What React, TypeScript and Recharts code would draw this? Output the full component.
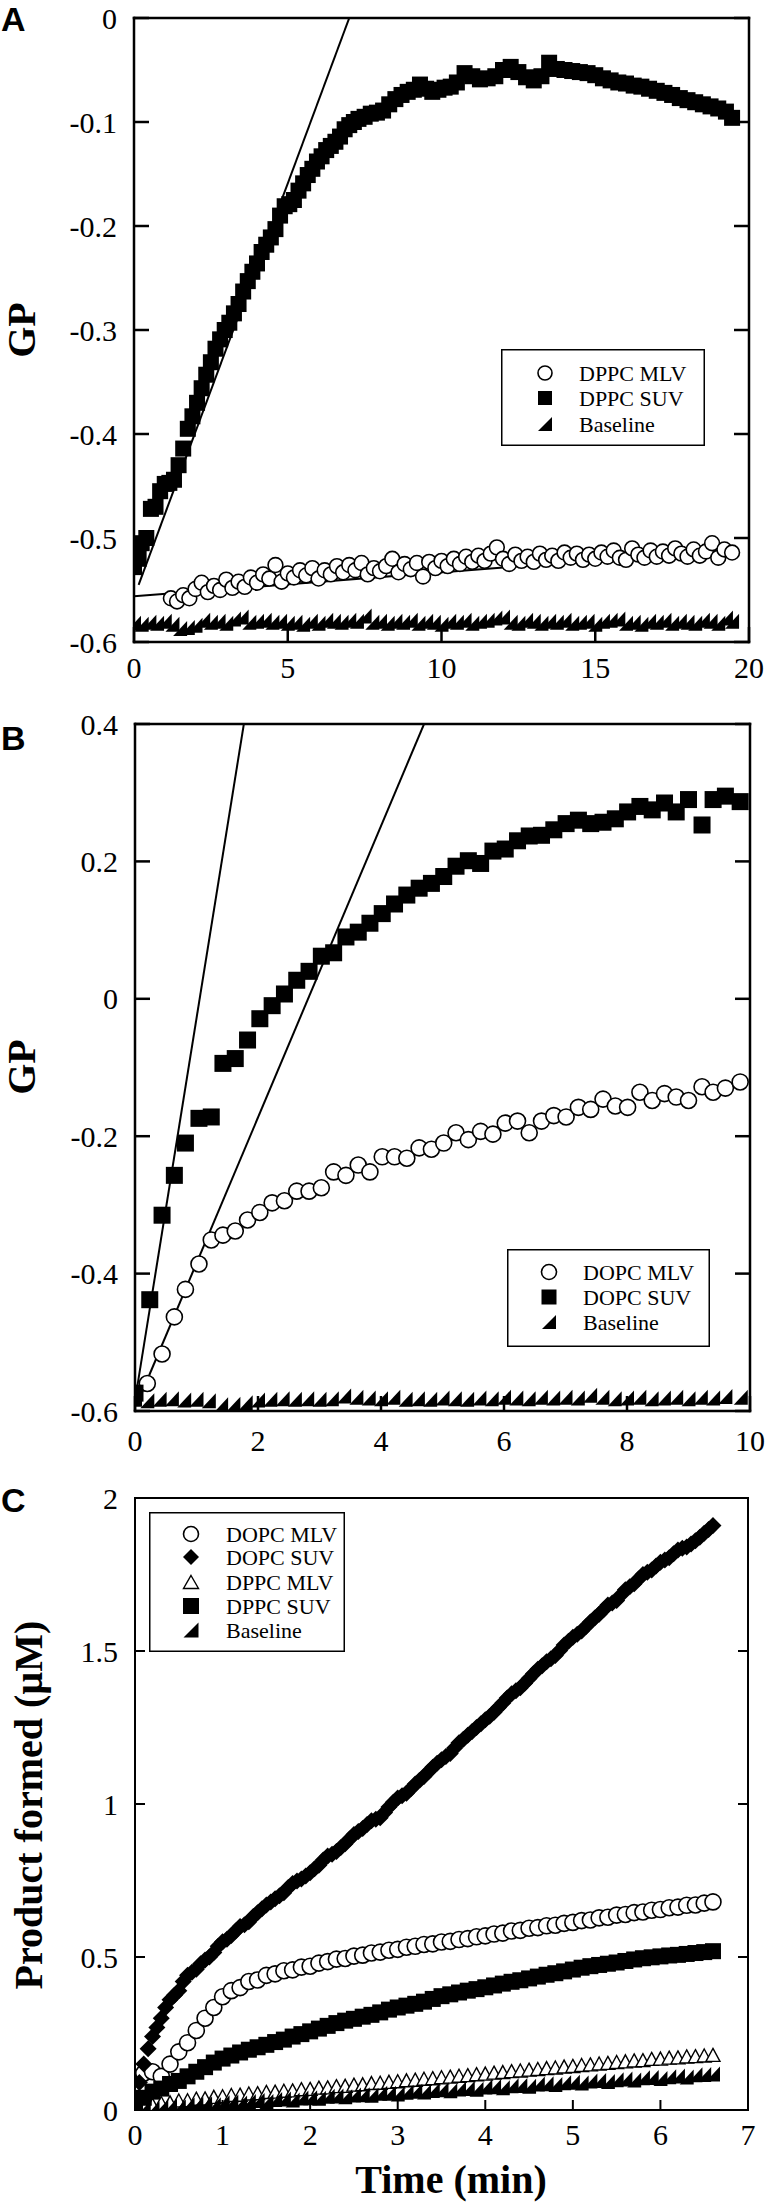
import React from 'react';
import { ComposedChart, Scatter, Line, XAxis, YAxis, Legend } from 'recharts';

const SERIF = '"Liberation Serif", "Times New Roman", serif';
const SANS = '"Liberation Sans", Arial, sans-serif';

type Pt = [number, number];

// ---------- panel A : DPPC, GP vs time ----------
const A_X_TICKS = [0, 5, 10, 15, 20];
const A_Y_TICKS = [-0.6, -0.5, -0.4, -0.3, -0.2, -0.1, 0];
const A_NAMES = ['DPPC MLV', 'DPPC SUV', 'Baseline'];

const A_DPPC_MLV: Pt[] = [
  [1.2, -0.558], [1.4, -0.561], [1.6, -0.555], [1.8, -0.558], [2.0, -0.549], [2.2, -0.543], [2.4, -0.552],
  [2.6, -0.546], [2.8, -0.55], [3.0, -0.54], [3.2, -0.548], [3.4, -0.542], [3.6, -0.547], [3.8, -0.538],
  [4.0, -0.543], [4.2, -0.535], [4.4, -0.539], [4.6, -0.526], [4.8, -0.542], [5.0, -0.534], [5.2, -0.538],
  [5.4, -0.531], [5.6, -0.536], [5.8, -0.529], [6.0, -0.539], [6.2, -0.531], [6.4, -0.535], [6.6, -0.527],
  [6.8, -0.533], [7.0, -0.526], [7.2, -0.531], [7.4, -0.524], [7.6, -0.535], [7.8, -0.529], [8.0, -0.532],
  [8.2, -0.527], [8.4, -0.52], [8.6, -0.533], [8.8, -0.525], [9.0, -0.53], [9.2, -0.524], [9.4, -0.537],
  [9.6, -0.523], [9.8, -0.529], [10.0, -0.522], [10.2, -0.527], [10.4, -0.52], [10.6, -0.525], [10.8, -0.518],
  [11.0, -0.523], [11.2, -0.517], [11.4, -0.522], [11.6, -0.515], [11.8, -0.509], [12.0, -0.52], [12.2, -0.525],
  [12.4, -0.516], [12.6, -0.522], [12.8, -0.518], [13.0, -0.523], [13.2, -0.515], [13.4, -0.521], [13.6, -0.517],
  [13.8, -0.522], [14.0, -0.514], [14.2, -0.519], [14.4, -0.515], [14.6, -0.521], [14.8, -0.516], [15.0, -0.52],
  [15.2, -0.514], [15.4, -0.518], [15.6, -0.512], [15.8, -0.519], [16.0, -0.521], [16.2, -0.51], [16.4, -0.516],
  [16.6, -0.519], [16.8, -0.512], [17.0, -0.518], [17.2, -0.513], [17.4, -0.517], [17.6, -0.51], [17.8, -0.515],
  [18.0, -0.518], [18.2, -0.511], [18.4, -0.517], [18.6, -0.513], [18.8, -0.505], [19.0, -0.519], [19.2, -0.511],
  [19.45, -0.514],
];

const A_DPPC_SUV: Pt[] = [
  [0, -0.528], [0.15, -0.52], [0.25, -0.505], [0.4, -0.5], [0.55, -0.472], [0.7, -0.47], [0.85, -0.455],
  [1.0, -0.448], [1.15, -0.447], [1.3, -0.444], [1.45, -0.43], [1.6, -0.414], [1.75, -0.395], [1.9, -0.383],
  [2.05, -0.37], [2.2, -0.356], [2.35, -0.343], [2.5, -0.331], [2.65, -0.318], [2.8, -0.309], [2.95, -0.3],
  [3.1, -0.293], [3.25, -0.284], [3.4, -0.275], [3.55, -0.263], [3.7, -0.253], [3.85, -0.244], [4.0, -0.236],
  [4.15, -0.225], [4.3, -0.218], [4.45, -0.211], [4.6, -0.203], [4.75, -0.19], [4.9, -0.181], [5.05, -0.179],
  [5.2, -0.175], [5.35, -0.166], [5.5, -0.159], [5.65, -0.151], [5.8, -0.145], [5.95, -0.138], [6.1, -0.133],
  [6.25, -0.127], [6.4, -0.123], [6.55, -0.119], [6.7, -0.114], [6.85, -0.107], [7.0, -0.103], [7.15, -0.1],
  [7.3, -0.097], [7.5, -0.095], [7.7, -0.092], [7.9, -0.091], [8.1, -0.089], [8.3, -0.083], [8.5, -0.078],
  [8.7, -0.074], [8.9, -0.071], [9.1, -0.069], [9.3, -0.064], [9.5, -0.068], [9.7, -0.071], [9.9, -0.069],
  [10.1, -0.067], [10.3, -0.066], [10.5, -0.062], [10.75, -0.053], [11.0, -0.056], [11.25, -0.059], [11.5, -0.058],
  [11.75, -0.056], [12.0, -0.05], [12.25, -0.047], [12.5, -0.052], [12.75, -0.057], [13.0, -0.06], [13.25, -0.056],
  [13.5, -0.043], [13.75, -0.049], [14.0, -0.05], [14.25, -0.051], [14.5, -0.052], [14.75, -0.053], [15.0, -0.055],
  [15.25, -0.058], [15.5, -0.06], [15.75, -0.062], [16.0, -0.063], [16.25, -0.065], [16.5, -0.066], [16.75, -0.068],
  [17.0, -0.07], [17.25, -0.072], [17.5, -0.074], [17.75, -0.077], [18.0, -0.079], [18.25, -0.081], [18.5, -0.083],
  [18.75, -0.085], [19.0, -0.087], [19.25, -0.09], [19.45, -0.096],
];

const A_BASELINE: Pt[] = [
  [0, -0.582], [0.25, -0.583], [0.5, -0.581], [0.75, -0.582], [1.0, -0.58], [1.25, -0.583], [1.5, -0.587],
  [1.75, -0.586], [2.0, -0.584], [2.25, -0.579], [2.5, -0.581], [2.75, -0.58], [3.0, -0.582], [3.25, -0.578],
  [3.5, -0.576], [3.75, -0.581], [4.0, -0.58], [4.25, -0.579], [4.5, -0.581], [4.75, -0.58], [5.0, -0.582],
  [5.25, -0.581], [5.5, -0.583], [5.75, -0.58], [6.0, -0.582], [6.25, -0.579], [6.5, -0.58], [6.75, -0.581],
  [7.0, -0.579], [7.25, -0.58], [7.5, -0.575], [7.75, -0.581], [8.0, -0.58], [8.25, -0.582], [8.5, -0.58],
  [8.75, -0.581], [9.0, -0.579], [9.25, -0.582], [9.5, -0.58], [9.75, -0.581], [10.0, -0.583], [10.25, -0.58],
  [10.5, -0.581], [10.75, -0.579], [11.0, -0.582], [11.25, -0.58], [11.5, -0.579], [11.75, -0.577], [12.0, -0.576],
  [12.25, -0.581], [12.5, -0.582], [12.75, -0.579], [13.0, -0.58], [13.25, -0.582], [13.5, -0.58], [13.75, -0.581],
  [14.0, -0.579], [14.25, -0.582], [14.5, -0.581], [14.75, -0.58], [15.0, -0.583], [15.25, -0.58], [15.5, -0.579],
  [15.75, -0.578], [16.0, -0.582], [16.25, -0.581], [16.5, -0.583], [16.75, -0.58], [17.0, -0.581], [17.25, -0.579],
  [17.5, -0.582], [17.75, -0.58], [18.0, -0.581], [18.25, -0.582], [18.5, -0.579], [18.75, -0.58], [19.0, -0.582],
  [19.25, -0.577], [19.45, -0.58],
];

const A_FIT_SUV: Pt[] = [[0.15, -0.545], [7.0, 0]];
const A_FIT_MLV: Pt[] = [[0, -0.556], [19.5, -0.511]];

// ---------- panel B : DOPC, GP vs time ----------
const B_X_TICKS = [0, 2, 4, 6, 8, 10];
const B_Y_TICKS = [-0.6, -0.4, -0.2, 0, 0.2, 0.4];
const B_NAMES = ['DOPC MLV', 'DOPC SUV', 'Baseline'];

const B_DOPC_MLV: Pt[] = [
  [0.2, -0.56], [0.44, -0.517], [0.64, -0.463], [0.82, -0.423], [1.04, -0.386], [1.24, -0.351], [1.43, -0.344],
  [1.63, -0.338], [1.83, -0.322], [2.03, -0.311], [2.23, -0.297], [2.43, -0.294], [2.63, -0.28], [2.83, -0.28],
  [3.03, -0.275], [3.23, -0.252], [3.43, -0.257], [3.63, -0.242], [3.82, -0.252], [4.02, -0.23], [4.22, -0.23],
  [4.42, -0.232], [4.62, -0.217], [4.82, -0.219], [5.02, -0.21], [5.22, -0.195], [5.42, -0.205], [5.62, -0.193],
  [5.82, -0.197], [6.02, -0.181], [6.22, -0.178], [6.41, -0.195], [6.61, -0.178], [6.81, -0.17], [7.01, -0.172],
  [7.21, -0.158], [7.41, -0.161], [7.61, -0.146], [7.81, -0.156], [8.01, -0.158], [8.21, -0.136], [8.41, -0.148],
  [8.61, -0.138], [8.8, -0.143], [9.0, -0.148], [9.22, -0.128], [9.4, -0.136], [9.6, -0.13], [9.84, -0.121],
];

const B_DOPC_SUV: Pt[] = [
  [0, -0.574], [0.24, -0.438], [0.44, -0.315], [0.64, -0.257], [0.82, -0.21], [1.04, -0.174], [1.24, -0.172],
  [1.43, -0.094], [1.63, -0.087], [1.83, -0.06], [2.03, -0.029], [2.23, -0.01], [2.43, 0.007], [2.63, 0.027],
  [2.83, 0.04], [3.03, 0.062], [3.23, 0.067], [3.43, 0.09], [3.63, 0.097], [3.82, 0.11], [4.02, 0.124],
  [4.22, 0.138], [4.42, 0.151], [4.62, 0.161], [4.82, 0.168], [5.02, 0.178], [5.22, 0.193], [5.42, 0.201],
  [5.62, 0.197], [5.82, 0.215], [6.02, 0.218], [6.22, 0.23], [6.41, 0.237], [6.61, 0.238], [6.81, 0.246],
  [7.01, 0.255], [7.21, 0.26], [7.41, 0.255], [7.61, 0.257], [7.81, 0.262], [8.01, 0.272], [8.21, 0.28],
  [8.41, 0.275], [8.61, 0.285], [8.8, 0.272], [9.0, 0.29], [9.22, 0.253], [9.4, 0.29], [9.6, 0.295], [9.84, 0.287],
];

const B_BASELINE: Pt[] = [
  [0, -0.583], [0.2, -0.585], [0.4, -0.583], [0.6, -0.582], [0.8, -0.584], [1.0, -0.583], [1.2, -0.585],
  [1.4, -0.591], [1.6, -0.59], [1.8, -0.588], [2.0, -0.584], [2.2, -0.583], [2.4, -0.582], [2.6, -0.583],
  [2.8, -0.582], [3.0, -0.583], [3.2, -0.582], [3.4, -0.578], [3.6, -0.58], [3.8, -0.581], [4.0, -0.582],
  [4.2, -0.58], [4.4, -0.583], [4.6, -0.582], [4.8, -0.583], [5.0, -0.581], [5.2, -0.582], [5.4, -0.583],
  [5.6, -0.581], [5.8, -0.582], [6.0, -0.58], [6.2, -0.581], [6.4, -0.582], [6.6, -0.58], [6.8, -0.581],
  [7.0, -0.58], [7.2, -0.581], [7.4, -0.577], [7.6, -0.58], [7.8, -0.582], [8.0, -0.581], [8.2, -0.58],
  [8.4, -0.582], [8.6, -0.581], [8.8, -0.58], [9.0, -0.582], [9.2, -0.58], [9.4, -0.581], [9.6, -0.579], [9.85, -0.58],
];

const B_FIT_SUV: Pt[] = [[0, -0.585], [1.77, 0.4]];
const B_FIT_MLV: Pt[] = [[0.08, -0.58], [4.7, 0.4]];

// ---------- panel C : product formed vs time ----------
const C_X_TICKS = [0, 1, 2, 3, 4, 5, 6, 7];
const C_Y_TICKS = [0, 0.5, 1, 1.5, 2];
const C_NAMES = ['DOPC MLV', 'DOPC SUV', 'DPPC MLV', 'DPPC SUV', 'Baseline'];

const C_DOPC_MLV: Pt[] = [
  [0.1, 0.12], [0.2, 0.125], [0.3, 0.11], [0.4, 0.15], [0.5, 0.19], [0.6, 0.22], [0.7, 0.26], [0.8, 0.3],
  [0.9, 0.335], [1.0, 0.37], [1.1, 0.39], [1.2, 0.4], [1.3, 0.42], [1.4, 0.425], [1.5, 0.44], [1.6, 0.445],
  [1.7, 0.455], [1.8, 0.458], [1.9, 0.467], [2.0, 0.47], [2.1, 0.48], [2.2, 0.485], [2.3, 0.493], [2.4, 0.495],
  [2.5, 0.503], [2.6, 0.506], [2.7, 0.513], [2.8, 0.516], [2.9, 0.522], [3.0, 0.525], [3.1, 0.532], [3.2, 0.535],
  [3.3, 0.541], [3.4, 0.543], [3.5, 0.549], [3.6, 0.551], [3.7, 0.557], [3.8, 0.56], [3.9, 0.566], [4.0, 0.569],
  [4.1, 0.575], [4.2, 0.578], [4.3, 0.585], [4.4, 0.587], [4.5, 0.594], [4.6, 0.596], [4.7, 0.602], [4.8, 0.604],
  [4.9, 0.61], [5.0, 0.613], [5.1, 0.619], [5.2, 0.621], [5.3, 0.628], [5.4, 0.63], [5.5, 0.637], [5.6, 0.639],
  [5.7, 0.645], [5.8, 0.647], [5.9, 0.653], [6.0, 0.655], [6.1, 0.661], [6.2, 0.663], [6.3, 0.669], [6.4, 0.67],
  [6.5, 0.676], [6.6, 0.68],
];

const C_DOPC_SUV: Pt[] = [
  [0, 0.03], [0.05, 0.09], [0.1, 0.15], [0.15, 0.2], [0.2, 0.24], [0.25, 0.27], [0.3, 0.3], [0.35, 0.335],
  [0.4, 0.36], [0.45, 0.375], [0.5, 0.39], [0.55, 0.42], [0.6, 0.44], [0.65, 0.45], [0.7, 0.46], [0.75, 0.478],
  [0.8, 0.49], [0.85, 0.5], [0.9, 0.515], [0.95, 0.535], [1.0, 0.55], [1.05, 0.558], [1.1, 0.57], [1.15, 0.585],
  [1.2, 0.6], [1.25, 0.605], [1.3, 0.615], [1.35, 0.632], [1.4, 0.645], [1.45, 0.658], [1.5, 0.67], [1.55, 0.68],
  [1.6, 0.69], [1.65, 0.7], [1.7, 0.71], [1.75, 0.727], [1.8, 0.74], [1.85, 0.748], [1.9, 0.755], [1.95, 0.765],
  [2.0, 0.775], [2.05, 0.788], [2.1, 0.8], [2.15, 0.817], [2.2, 0.83], [2.25, 0.836], [2.3, 0.845], [2.35, 0.858],
  [2.4, 0.87], [2.45, 0.886], [2.5, 0.9], [2.55, 0.91], [2.6, 0.92], [2.65, 0.933], [2.7, 0.945], [2.75, 0.95],
  [2.8, 0.955], [2.85, 0.972], [2.9, 0.99], [2.95, 1.006], [3.0, 1.02], [3.05, 1.027], [3.1, 1.035], [3.15, 1.05],
  [3.2, 1.065], [3.25, 1.078], [3.3, 1.09], [3.35, 1.105], [3.4, 1.12], [3.45, 1.133], [3.5, 1.145], [3.55, 1.155],
  [3.6, 1.165], [3.65, 1.183], [3.7, 1.2], [3.75, 1.212], [3.8, 1.225], [3.85, 1.237], [3.9, 1.25], [3.95, 1.262],
  [4.0, 1.275], [4.05, 1.287], [4.1, 1.3], [4.15, 1.315], [4.2, 1.33], [4.25, 1.346], [4.3, 1.36], [4.35, 1.37],
  [4.4, 1.38], [4.45, 1.395], [4.5, 1.41], [4.55, 1.426], [4.6, 1.44], [4.65, 1.452], [4.7, 1.465], [4.75, 1.475],
  [4.8, 1.485], [4.85, 1.502], [4.9, 1.52], [4.95, 1.532], [5.0, 1.545], [5.05, 1.555], [5.1, 1.565], [5.15, 1.58],
  [5.2, 1.595], [5.25, 1.608], [5.3, 1.62], [5.35, 1.635], [5.4, 1.65], [5.45, 1.657], [5.5, 1.665], [5.55, 1.683],
  [5.6, 1.7], [5.65, 1.71], [5.7, 1.72], [5.75, 1.735], [5.8, 1.75], [5.85, 1.757], [5.9, 1.765], [5.95, 1.778],
  [6.0, 1.79], [6.05, 1.797], [6.1, 1.805], [6.15, 1.818], [6.2, 1.83], [6.25, 1.836], [6.3, 1.84], [6.35, 1.85],
  [6.4, 1.86], [6.45, 1.872], [6.5, 1.885], [6.55, 1.897], [6.6, 1.91],
];

const C_DPPC_MLV: Pt[] = [
  [0, 0.005], [0.1, 0.012], [0.2, 0.017], [0.3, 0.023], [0.4, 0.025], [0.5, 0.031], [0.6, 0.032], [0.7, 0.037],
  [0.8, 0.038], [0.9, 0.043], [1.0, 0.045], [1.1, 0.049], [1.2, 0.05], [1.3, 0.054], [1.4, 0.055], [1.5, 0.059],
  [1.6, 0.06], [1.7, 0.063], [1.8, 0.064], [1.9, 0.068], [2.0, 0.069], [2.1, 0.073], [2.2, 0.074], [2.3, 0.078],
  [2.4, 0.079], [2.5, 0.083], [2.6, 0.084], [2.7, 0.088], [2.8, 0.089], [2.9, 0.092], [3.0, 0.094], [3.1, 0.097],
  [3.2, 0.099], [3.3, 0.102], [3.4, 0.104], [3.5, 0.107], [3.6, 0.109], [3.7, 0.112], [3.8, 0.114], [3.9, 0.117],
  [4.0, 0.119], [4.1, 0.122], [4.2, 0.124], [4.3, 0.127], [4.4, 0.129], [4.5, 0.132], [4.6, 0.134], [4.7, 0.137],
  [4.8, 0.139], [4.9, 0.142], [5.0, 0.144], [5.1, 0.147], [5.2, 0.149], [5.3, 0.152], [5.4, 0.154], [5.5, 0.157],
  [5.6, 0.159], [5.7, 0.162], [5.8, 0.163], [5.9, 0.167], [6.0, 0.168], [6.1, 0.171], [6.2, 0.172], [6.3, 0.175],
  [6.4, 0.176], [6.5, 0.178], [6.6, 0.18],
];

const C_DPPC_SUV: Pt[] = [
  [0, 0.015], [0.1, 0.04], [0.2, 0.06], [0.3, 0.07], [0.4, 0.085], [0.5, 0.095], [0.6, 0.11], [0.7, 0.125],
  [0.8, 0.14], [0.9, 0.155], [1.0, 0.168], [1.1, 0.178], [1.2, 0.188], [1.3, 0.197], [1.4, 0.205], [1.5, 0.213],
  [1.6, 0.222], [1.7, 0.23], [1.8, 0.24], [1.9, 0.248], [2.0, 0.257], [2.1, 0.266], [2.2, 0.275], [2.3, 0.284],
  [2.4, 0.292], [2.5, 0.298], [2.6, 0.305], [2.7, 0.311], [2.8, 0.319], [2.9, 0.328], [3.0, 0.335], [3.1, 0.341],
  [3.2, 0.347], [3.3, 0.354], [3.4, 0.363], [3.5, 0.372], [3.6, 0.378], [3.7, 0.384], [3.8, 0.39], [3.9, 0.395],
  [4.0, 0.401], [4.1, 0.407], [4.2, 0.413], [4.3, 0.419], [4.4, 0.424], [4.5, 0.43], [4.6, 0.436], [4.7, 0.442],
  [4.8, 0.447], [4.9, 0.453], [5.0, 0.459], [5.1, 0.465], [5.2, 0.47], [5.3, 0.474], [5.4, 0.478], [5.5, 0.482],
  [5.6, 0.487], [5.7, 0.492], [5.8, 0.496], [5.9, 0.499], [6.0, 0.502], [6.1, 0.505], [6.2, 0.507], [6.3, 0.51],
  [6.4, 0.513], [6.5, 0.516], [6.6, 0.519],
];

const C_BASELINE: Pt[] = [
  [0, 0.0], [0.1, 0.006], [0.2, 0.004], [0.3, 0.01], [0.4, 0.013], [0.5, 0.01], [0.6, 0.016], [0.7, 0.018],
  [0.8, 0.02], [0.9, 0.017], [1.0, 0.024], [1.1, 0.026], [1.2, 0.023], [1.3, 0.028], [1.4, 0.031], [1.5, 0.028],
  [1.6, 0.034], [1.7, 0.036], [1.8, 0.033], [1.9, 0.039], [2.0, 0.04], [2.1, 0.038], [2.2, 0.045], [2.3, 0.046],
  [2.4, 0.043], [2.5, 0.049], [2.6, 0.05], [2.7, 0.048], [2.8, 0.055], [2.9, 0.055], [3.0, 0.052], [3.1, 0.058],
  [3.2, 0.061], [3.3, 0.059], [3.4, 0.064], [3.5, 0.066], [3.6, 0.063], [3.7, 0.069], [3.8, 0.07], [3.9, 0.068],
  [4.0, 0.075], [4.1, 0.076], [4.2, 0.073], [4.3, 0.079], [4.4, 0.08], [4.5, 0.078], [4.6, 0.085], [4.7, 0.086],
  [4.8, 0.083], [4.9, 0.089], [5.0, 0.091], [5.1, 0.088], [5.2, 0.095], [5.3, 0.096], [5.4, 0.093], [5.5, 0.099],
  [5.6, 0.101], [5.7, 0.098], [5.8, 0.105], [5.9, 0.106], [6.0, 0.103], [6.1, 0.109], [6.2, 0.111], [6.3, 0.108],
  [6.4, 0.115], [6.5, 0.116], [6.6, 0.118],
];

const pts = (arr: Pt[]) => arr.map(([x, y]) => ({ x, y }));

// ---------- markers ----------
const square = (s: number) => (p: any) =>
  <rect x={p.cx - s / 2} y={p.cy - s / 2} width={s} height={s} fill="#000" />;
const openCircle = (r: number) => (p: any) =>
  <circle cx={p.cx} cy={p.cy} r={r} fill="#fff" stroke="#000" strokeWidth={1.6} />;
const diamond = (h: number) => (p: any) =>
  <path d={`M${p.cx},${p.cy - h}L${p.cx + h},${p.cy}L${p.cx},${p.cy + h}L${p.cx - h},${p.cy}Z`} fill="#000" />;
const openTriangle = (w: number, h: number) => (p: any) =>
  <path d={`M${p.cx},${p.cy - h / 2}L${p.cx + w / 2},${p.cy + h / 2}L${p.cx - w / 2},${p.cy + h / 2}Z`} fill="#fff" stroke="#000" strokeWidth={1.4} />;
// right-angled "baseline" wedge
const wedge = (w: number, h: number) => (p: any) =>
  <path d={`M${p.cx + w / 2},${p.cy - h / 2}L${p.cx + w / 2},${p.cy + h / 2}L${p.cx - w / 2},${p.cy + h / 2}Z`} fill="#000" />;

// ---------- frame axes with inward ticks ----------
type AxCfg = {
  xDomain: [number, number]; yDomain: [number, number];
  xTicks: number[]; yTicks: number[];
  topH: number; bottomH: number; leftW: number; rightW: number;
  len: number; sw: number; labelDy: number;
};

function frameAxes(c: AxCfg) {
  const axisLine = { stroke: '#000', strokeWidth: c.sw, strokeLinecap: 'square' as const };
  const label = (x: number, y: number, v: any, anchor: 'middle' | 'end') => (
    <text x={x} y={y} textAnchor={anchor} dominantBaseline="central" fontFamily={SERIF} fontSize={30} fill="#000">{v}</text>
  );
  return [
    <XAxis key="xb" xAxisId={0} type="number" dataKey="x" domain={c.xDomain} ticks={c.xTicks} allowDataOverflow
      height={c.bottomH} interval={0} tickSize={0} tickMargin={0} tickLine={false} axisLine={axisLine}
      tick={(p: any) => (
        <g>
          <line x1={p.x} y1={p.y} x2={p.x} y2={p.y - c.len} stroke="#000" strokeWidth={c.sw} />
          {label(p.x, p.y + c.labelDy, p.payload.value, 'middle')}
        </g>
      )} />,
    <XAxis key="xt" xAxisId="top" orientation="top" type="number" domain={c.xDomain} ticks={c.xTicks} allowDataOverflow
      height={c.topH} interval={0} tickSize={0} tickMargin={0} tickLine={false} axisLine={axisLine}
      tick={(p: any) => <line x1={p.x} y1={p.y} x2={p.x} y2={p.y + c.len} stroke="#000" strokeWidth={c.sw} />} />,
    <YAxis key="yl" yAxisId={0} type="number" dataKey="y" domain={c.yDomain} ticks={c.yTicks} allowDataOverflow
      width={c.leftW} interval={0} tickSize={0} tickMargin={0} tickLine={false} axisLine={axisLine}
      tick={(p: any) => (
        <g>
          <line x1={p.x} y1={p.y} x2={p.x + c.len} y2={p.y} stroke="#000" strokeWidth={c.sw} />
          {label(p.x - 17, p.y, p.payload.value, 'end')}
        </g>
      )} />,
    <YAxis key="yr" yAxisId="right" orientation="right" type="number" domain={c.yDomain} ticks={c.yTicks} allowDataOverflow
      width={c.rightW} interval={0} tickSize={0} tickMargin={0} tickLine={false} axisLine={axisLine}
      tick={(p: any) => <line x1={p.x} y1={p.y} x2={p.x - c.len} y2={p.y} stroke="#000" strokeWidth={c.sw} />} />,
  ];
}

// ---------- legend box ----------
type Row = { label: string; mark: (p: any) => React.ReactElement };

function legendBox(w: number, h: number, rows: Row[], rowY: number[], symX: number, textX: number) {
  return () => (
    <svg width={w} height={h} style={{ display: 'block' }}>
      <rect x={0.75} y={0.75} width={w - 1.5} height={h - 1.5} fill="#fff" stroke="#000" strokeWidth={1.5} />
      {rows.map((r, i) => (
        <g key={r.label + i}>
          {r.mark({ cx: symX, cy: rowY[i] })}
          <text x={textX} y={rowY[i]} dominantBaseline="central" fontFamily={SERIF} fontSize={22} fill="#000">{r.label}</text>
        </g>
      ))}
    </svg>
  );
}

const noOffsetLegend = { layout: 'vertical' as const, align: 'center' as const, verticalAlign: 'middle' as const };

function PanelA() {
  return (
    <ComposedChart width={768} height={700} margin={{ top: 0, right: 0, bottom: 0, left: 0 }}>
      {frameAxes({ xDomain: [0, 20], yDomain: [-0.6, 0], xTicks: A_X_TICKS, yTicks: A_Y_TICKS,
        topH: 18, bottomH: 58, leftW: 134, rightW: 19, len: 15, sw: 2.5, labelDy: 25 })}
      <Scatter name={A_NAMES[0]} data={pts(A_DPPC_MLV)} shape={openCircle(7.4)} isAnimationActive={false} />
      <Scatter name={A_NAMES[2]} data={pts(A_BASELINE)} shape={wedge(14, 15)} isAnimationActive={false} />
      <Scatter name={A_NAMES[1]} data={pts(A_DPPC_SUV)} shape={square(16)} isAnimationActive={false} />
      <Line data={pts(A_FIT_MLV)} dataKey="y" stroke="#000" strokeWidth={2} dot={false} isAnimationActive={false} />
      <Line data={pts(A_FIT_SUV)} dataKey="y" stroke="#000" strokeWidth={2} dot={false} isAnimationActive={false} />
      <Legend {...noOffsetLegend} wrapperStyle={{ left: 501, top: 349, width: 204, height: 97 }}
        content={legendBox(204, 97, [
          { label: A_NAMES[0], mark: openCircle(7) },
          { label: A_NAMES[1], mark: square(14) },
          { label: A_NAMES[2], mark: wedge(14, 14) },
        ], [24, 49, 75], 44, 78)} />
    </ComposedChart>
  );
}

function PanelB() {
  return (
    <ComposedChart width={768} height={760} margin={{ top: 0, right: 0, bottom: 0, left: 0 }}>
      {frameAxes({ xDomain: [0, 10], yDomain: [-0.6, 0.4], xTicks: B_X_TICKS, yTicks: B_Y_TICKS,
        topH: 24, bottomH: 49, leftW: 135, rightW: 18, len: 15, sw: 2.5, labelDy: 29 })}
      <Scatter name={B_NAMES[2]} data={pts(B_BASELINE)} shape={wedge(14, 15)} isAnimationActive={false} />
      <Scatter name={B_NAMES[0]} data={pts(B_DOPC_MLV)} shape={openCircle(8)} isAnimationActive={false} />
      <Scatter name={B_NAMES[1]} data={pts(B_DOPC_SUV)} shape={square(17)} isAnimationActive={false} />
      <Line data={pts(B_FIT_SUV)} dataKey="y" stroke="#000" strokeWidth={2} dot={false} isAnimationActive={false} />
      <Line data={pts(B_FIT_MLV)} dataKey="y" stroke="#000" strokeWidth={2} dot={false} isAnimationActive={false} />
      <Legend {...noOffsetLegend} wrapperStyle={{ left: 507, top: 549, width: 203, height: 98 }}
        content={legendBox(203, 98, [
          { label: B_NAMES[0], mark: openCircle(7.5) },
          { label: B_NAMES[1], mark: square(15) },
          { label: B_NAMES[2], mark: wedge(14, 14) },
        ], [23, 48, 73], 42, 76)} />
    </ComposedChart>
  );
}

function PanelC() {
  return (
    <ComposedChart width={768} height={744} margin={{ top: 0, right: 0, bottom: 0, left: 0 }}>
      {frameAxes({ xDomain: [0, 7], yDomain: [0, 2], xTicks: C_X_TICKS, yTicks: C_Y_TICKS,
        topH: 38, bottomH: 94, leftW: 135, rightW: 20, len: 10, sw: 2, labelDy: 24 })}
      <Scatter name={C_NAMES[0]} data={pts(C_DOPC_MLV)} shape={openCircle(8)} isAnimationActive={false} />
      <Scatter name={C_NAMES[1]} data={pts(C_DOPC_SUV)} shape={diamond(8.5)} isAnimationActive={false} />
      <Scatter name={C_NAMES[2]} data={pts(C_DPPC_MLV)} shape={openTriangle(14, 13)} isAnimationActive={false} />
      <Scatter name={C_NAMES[3]} data={pts(C_DPPC_SUV)} shape={square(16)} isAnimationActive={false} />
      <Scatter name={C_NAMES[4]} data={pts(C_BASELINE)} shape={wedge(14, 15)} isAnimationActive={false} />
      <Legend {...noOffsetLegend} wrapperStyle={{ left: 149, top: 52, width: 196, height: 140 }}
        content={legendBox(196, 140, [
          { label: C_NAMES[0], mark: openCircle(7.5) },
          { label: C_NAMES[1], mark: diamond(8) },
          { label: C_NAMES[2], mark: openTriangle(15, 13) },
          { label: C_NAMES[3], mark: square(16) },
          { label: C_NAMES[4], mark: wedge(15, 15) },
        ], [22, 45, 70, 94, 118], 42, 77)} />
    </ComposedChart>
  );
}

export default function App() {
  const title = { fontFamily: SERIF, fontWeight: 'bold' as const, fontSize: 40, fill: '#000' };
  const letter = { fontFamily: SANS, fontWeight: 'bold' as const, fontSize: 34, fill: '#000' };
  return (
    <div style={{ position: 'absolute', left: 0, top: 0, width: 768, height: 2204, background: '#fff' }}>
      <div style={{ position: 'absolute', left: 0, top: 0 }}><PanelA /></div>
      <div style={{ position: 'absolute', left: 0, top: 700 }}><PanelB /></div>
      <div style={{ position: 'absolute', left: 0, top: 1460 }}><PanelC /></div>
      <svg width={768} height={2204} style={{ position: 'absolute', left: 0, top: 0, pointerEvents: 'none' }}>
        <text x={1} y={31} {...letter}>A</text>
        <text x={1} y={750} {...letter}>B</text>
        <text x={1} y={1512} {...letter}>C</text>
        <text transform="translate(21,330) rotate(-90)" textAnchor="middle" dominantBaseline="central" {...title}>GP</text>
        <text transform="translate(21,1067) rotate(-90)" textAnchor="middle" dominantBaseline="central" {...title}>GP</text>
        <text transform="translate(28,1805) rotate(-90)" textAnchor="middle" dominantBaseline="central" {...title}>Product formed (µM)</text>
        <text x={451} y={2179} textAnchor="middle" dominantBaseline="central" {...title}>Time (min)</text>
      </svg>
    </div>
  );
}
